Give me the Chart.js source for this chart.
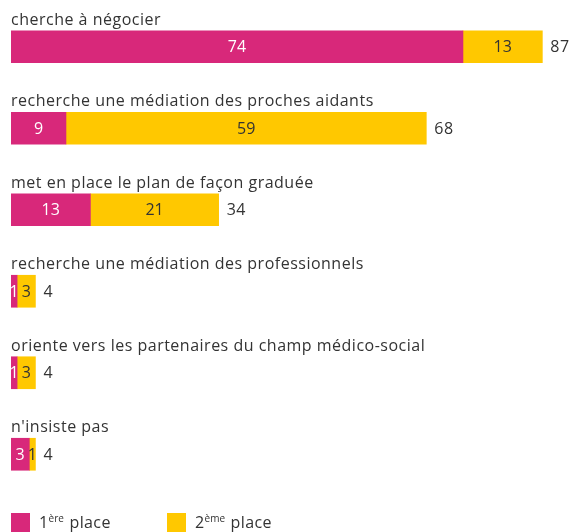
<!DOCTYPE html>
<html>
<head>
<meta charset="utf-8">
<script src="https://cdn.jsdelivr.net/npm/chart.js@4"></script>
<style>
  body { margin: 0; background: #fff; font-family: "Open Sans", sans-serif; color: #333; }
  #wrap { position: relative; width: 579px; height: 532px; }
  .item { position: absolute; top: 511px; display: flex; align-items: center; font-size: 16px; letter-spacing: 0.4px; }
  .box { width: 19px; height: 19px; margin-right: 9px; }
  sup { font-size: 10px; vertical-align: 6px; margin-right: 1px; letter-spacing: 0; }
</style>
</head>
<body>
<div id="wrap">
  <canvas id="chart" width="579" height="532"></canvas>
  <div class="item" style="left:11px"><span class="box" style="background:#d8287a"></span><span>1<sup>ère</sup> place</span></div>
  <div class="item" style="left:167px"><span class="box" style="background:#ffc800"></span><span>2<sup>ème</sup> place</span></div>
</div>
<script>
var categories = [
  "cherche à négocier",
  "recherche une médiation des proches aidants",
  "met en place le plan de façon graduée",
  "recherche une médiation des professionnels",
  "oriente vers les partenaires du champ médico-social",
  "n'insiste pas"
];
var firstPlace = [74, 9, 13, 1, 1, 3];
var secondPlace = [13, 59, 21, 3, 3, 1];
var totals = [87, 68, 34, 4, 4, 4];

var labelsPlugin = {
  id: 'labelsPlugin',
  afterDatasetsDraw: function(chart) {
    var ctx = chart.ctx;
    ctx.save();
    ctx.font = '16px "Open Sans", sans-serif';
    ctx.textBaseline = 'middle';
    chart.data.datasets.forEach(function(ds, di) {
      var meta = chart.getDatasetMeta(di);
      meta.data.forEach(function(bar, i) {
        var cx = (bar.x + bar.base) / 2;
        ctx.textAlign = 'center';
        ctx.fillStyle = di === 0 ? '#ffffff' : '#333333';
        ctx.fillText(String(ds.data[i]), cx, bar.y + 1);
      });
    });
    var last = chart.getDatasetMeta(1);
    ctx.letterSpacing = '0.5px';
    last.data.forEach(function(bar, i) {
      ctx.textAlign = 'left';
      ctx.fillStyle = '#333333';
      ctx.fillText(String(totals[i]), bar.x + 8, bar.y + 1);
      ctx.textBaseline = 'alphabetic';
      ctx.fillText(categories[i], chart.chartArea.left, bar.y - 22);
      ctx.textBaseline = 'middle';
    });
    ctx.restore();
  }
};

new Chart(document.getElementById('chart').getContext('2d'), {
  type: 'bar',
  data: {
    labels: categories,
    datasets: [
      { label: '1ère place', data: firstPlace, backgroundColor: '#d8287a', barThickness: 32 },
      { label: '2ème place', data: secondPlace, backgroundColor: '#ffc800', barThickness: 32 }
    ]
  },
  options: {
    indexAxis: 'y',
    responsive: false,
    animation: false,
    layout: { padding: { left: 11, top: 6, bottom: 37, right: 0 } },
    plugins: { legend: { display: false }, tooltip: { enabled: false } },
    scales: {
      x: { stacked: true, min: 0, max: 93, display: false },
      y: { stacked: true, display: false }
    }
  },
  plugins: [labelsPlugin]
});
</script>
</body>
</html>
